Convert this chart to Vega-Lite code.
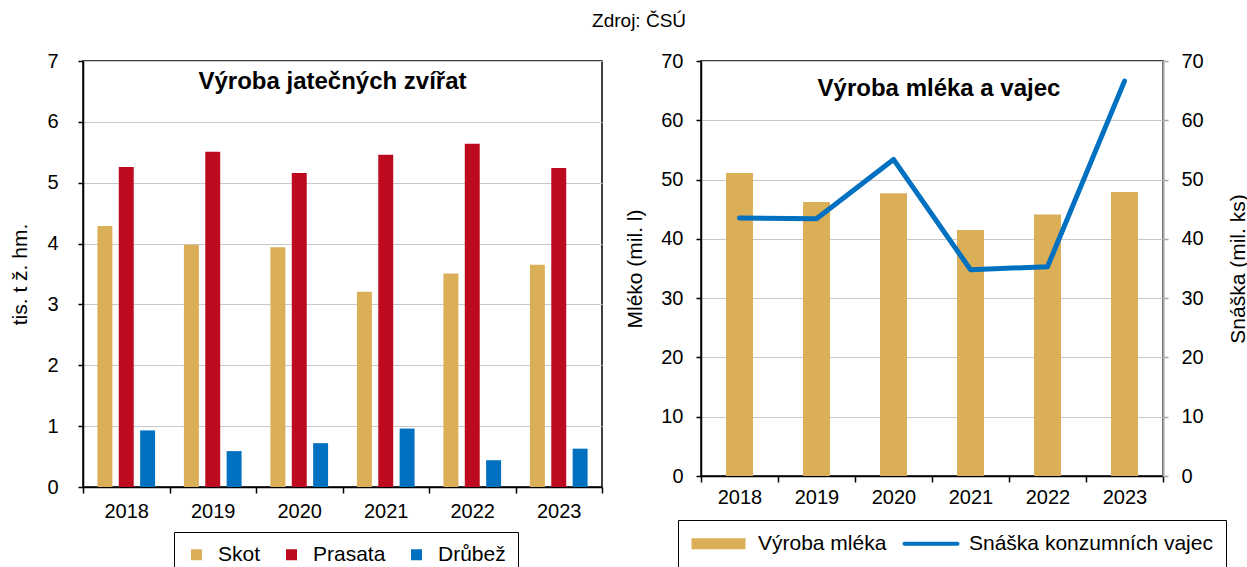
{
  "$schema": "https://vega.github.io/schema/vega-lite/v6.json",
  "background": "white",
  "padding": {"left": 9, "top": 12, "right": 0, "bottom": 0},
  "title": {"text": "Zdroj: ČSÚ", "fontSize": 19, "fontWeight": "normal", "color": "black", "anchor": "middle", "offset": 19, "dx": 10},
  "datasets": {
    "maso": [
      {"rok": "2018", "druh": "Skot", "hodnota": 4.29},
      {"rok": "2018", "druh": "Prasata", "hodnota": 5.26},
      {"rok": "2018", "druh": "Drůbež", "hodnota": 0.93},
      {"rok": "2019", "druh": "Skot", "hodnota": 3.98},
      {"rok": "2019", "druh": "Prasata", "hodnota": 5.51},
      {"rok": "2019", "druh": "Drůbež", "hodnota": 0.59},
      {"rok": "2020", "druh": "Skot", "hodnota": 3.94},
      {"rok": "2020", "druh": "Prasata", "hodnota": 5.16},
      {"rok": "2020", "druh": "Drůbež", "hodnota": 0.72},
      {"rok": "2021", "druh": "Skot", "hodnota": 3.21},
      {"rok": "2021", "druh": "Prasata", "hodnota": 5.46},
      {"rok": "2021", "druh": "Drůbež", "hodnota": 0.96},
      {"rok": "2022", "druh": "Skot", "hodnota": 3.51},
      {"rok": "2022", "druh": "Prasata", "hodnota": 5.64},
      {"rok": "2022", "druh": "Drůbež", "hodnota": 0.44},
      {"rok": "2023", "druh": "Skot", "hodnota": 3.65},
      {"rok": "2023", "druh": "Prasata", "hodnota": 5.24},
      {"rok": "2023", "druh": "Drůbež", "hodnota": 0.63}
    ],
    "mleko": [
      {"rok": "2018", "mleko": 51.1, "snaska": 43.5},
      {"rok": "2019", "mleko": 46.2, "snaska": 43.4},
      {"rok": "2020", "mleko": 47.7, "snaska": 53.4},
      {"rok": "2021", "mleko": 41.5, "snaska": 34.8},
      {"rok": "2022", "mleko": 44.1, "snaska": 35.3},
      {"rok": "2023", "mleko": 47.9, "snaska": 66.6}
    ]
  },
  "spacing": 20,
  "resolve": {"scale": {"color": "independent"}, "legend": {"color": "independent"}},
  "hconcat": [
    {
      "width": 519,
      "height": 426,
      "data": {"name": "maso"},
      "title": {"text": "Výroba jatečných zvířat", "fontSize": 24, "fontWeight": "bold", "baseline": "alphabetic", "offset": -62, "anchor": "middle", "frame": "group", "color": "black", "dx": -10},
      "mark": {"type": "bar"},
      "encoding": {
        "x": {
          "field": "rok", "type": "nominal",
          "scale": {"paddingInner": 0, "paddingOuter": 0},
          "axis": {"title": null, "labelAngle": 0, "tickBand": "extent", "grid": false, "tickSize": 6, "labelPadding": 8, "domainColor": "black", "tickColor": "black"}
        },
        "xOffset": {
          "field": "druh", "type": "nominal", "sort": ["Skot", "Prasata", "Drůbež"],
          "scale": {"paddingInner": 0.3, "paddingOuter": 0.675}
        },
        "y": {
          "field": "hodnota", "type": "quantitative",
          "scale": {"domain": [0, 7]},
          "axis": {"title": "tis. t ž. hm.", "values": [0, 1, 2, 3, 4, 5, 6, 7], "tickSize": 5, "labelPadding": 20, "titlePadding": 16, "grid": true, "domainColor": "black", "tickColor": "black"}
        },
        "color": {
          "field": "druh", "type": "nominal",
          "scale": {"domain": ["Skot", "Prasata", "Drůbež"], "range": ["#DBAE58", "#BE0A1E", "#0070C0"]},
          "legend": {"orient": "none", "legendX": 91, "legendY": 471, "direction": "horizontal", "columns": 3, "title": null, "strokeColor": "black", "fillColor": "white", "padding": 12, "columnPadding": 20, "labelOffset": 11, "symbolType": "square", "symbolSize": 121, "symbolStrokeWidth": 0, "labelLimit": 300}
        }
      }
    },
    {
      "width": 462,
      "height": 415,
      "data": {"name": "mleko"},
      "title": {"text": "Výroba mléka a vajec", "fontSize": 24, "fontWeight": "bold", "baseline": "alphabetic", "offset": -69, "anchor": "middle", "frame": "group", "color": "black", "dx": 7},
      "layer": [
        {
          "mark": {"type": "bar", "width": {"band": 0.35}},
          "encoding": {
            "x": {
              "field": "rok", "type": "nominal",
              "scale": {"paddingInner": 0, "paddingOuter": 0},
              "axis": {"title": null, "labelAngle": 0, "tickBand": "extent", "grid": false, "tickSize": 6, "labelPadding": 5, "domainColor": "black", "tickColor": "black"}
            },
            "y": {
              "field": "mleko", "type": "quantitative",
              "scale": {"domain": [0, 70]},
              "axis": {"title": "Mléko (mil. l)", "values": [0, 10, 20, 30, 40, 50, 60, 70], "tickSize": 5, "labelPadding": 13, "titlePadding": 15, "grid": true, "domainColor": "black", "tickColor": "black"}
            },
            "color": {
              "datum": "Výroba mléka", "type": "nominal",
              "scale": {"domain": ["Výroba mléka", "Snáška konzumních vajec"], "range": ["#DBAE58", "#0070C0"]},
              "legend": {
                "orient": "none", "legendX": -23, "legendY": 459, "direction": "horizontal", "columns": 2, "title": null,
                "strokeColor": "black", "fillColor": "white", "padding": 13, "columnPadding": 15, "labelOffset": 46,
                "symbolSize": 400, "labelLimit": 400,
                "encode": {
                  "symbols": {
                    "update": {
                      "shape": {"signal": "datum.value === 'Výroba mléka' ? 'M-1,-0.55H4.4V0.55H-1Z' : 'M-0.8,-0.2H4.5A0.2,0.2 0 0 1 4.5,0.2H-0.8A0.2,0.2 0 0 1 -0.8,-0.2Z'"},
                      "fill": {"signal": "datum.value === 'Výroba mléka' ? '#DBAE58' : '#0070C0'"},
                      "strokeWidth": {"value": 0},
                      "opacity": {"value": 1}
                    }
                  }
                }
              }
            }
          }
        },
        {
          "mark": {"type": "line", "strokeWidth": 5, "strokeCap": "round", "strokeJoin": "round"},
          "encoding": {
            "x": {"field": "rok", "type": "nominal"},
            "y": {
              "field": "snaska", "type": "quantitative",
              "scale": {"domain": [0, 70]},
              "axis": {"title": "Snáška (mil. ks)", "orient": "right", "values": [0, 10, 20, 30, 40, 50, 60, 70], "tickSize": 5, "labelPadding": 13, "titlePadding": 24, "titleAngle": 270, "titleBaseline": "top", "grid": false, "domainColor": "#A6A6A6", "tickColor": "#A6A6A6", "domainWidth": 2}
            },
            "color": {"datum": "Snáška konzumních vajec", "type": "nominal"}
          }
        }
      ],
      "resolve": {"scale": {"y": "independent"}}
    }
  ],
  "config": {
    "font": "Liberation Sans",
    "view": {"stroke": "black", "strokeWidth": 1.5},
    "axis": {"labelFont": "Liberation Sans", "labelFontSize": 20, "labelColor": "black", "titleFont": "Liberation Sans", "titleFontSize": 21, "titleFontWeight": "normal", "titleColor": "black", "gridColor": "#C8C8C8", "gridWidth": 1, "domainWidth": 1.5, "tickWidth": 1.5},
    "legend": {"labelFont": "Liberation Sans", "labelFontSize": 21, "labelColor": "black", "strokeWidth": 1},
    "title": {"font": "Liberation Sans"}
  }
}
